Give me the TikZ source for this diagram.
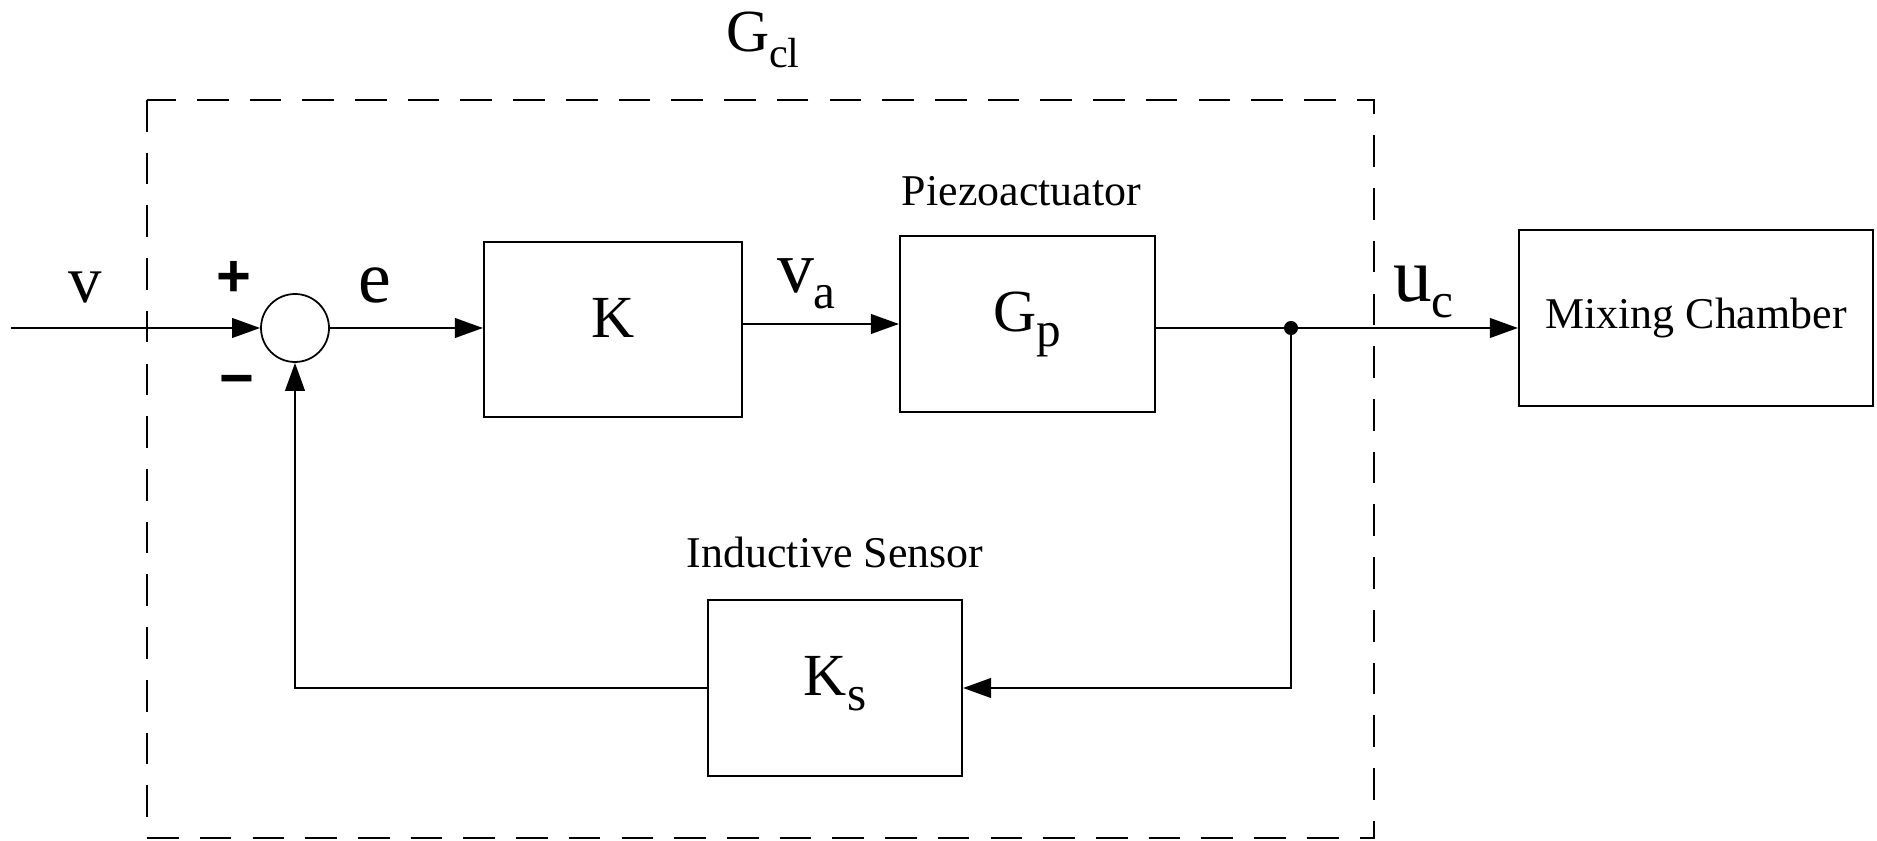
\documentclass[tikz,border=0pt]{standalone}
\usepackage{fontspec}
\setmainfont{Liberation Serif}
\newfontfamily\signfont{Liberation Sans}
\usetikzlibrary{arrows.meta}
% lowered roman subscript
\newcommand{\lsub}[2][14]{\raisebox{-4.3pt}{\fontsize{#1}{#1}\selectfont #2}}
\tikzset{
  block/.style={draw,rectangle,minimum height=1.76cm,inner sep=0pt},
  gain/.style={block,text height=11.3pt,text depth=7pt},
  lab/.style={inner sep=0pt},
  sig/.style={-{Triangle[length=8pt,width=5.6pt]}},
}
\begin{document}
\begin{tikzpicture}[line width=0.6pt,font=\fontsize{17}{17}\selectfont]
\useasboundingbox (0,0) rectangle (18.77,-8.41);
% closed loop frame
\draw[dash pattern=on 9pt off 6pt] (1.47,-1.00) rectangle (13.74,-8.38);
\node[lab,anchor=base west] (Gcl) at (7.25,-0.52) {G\lsub[12]{cl}};
% blocks
\node[draw,circle,minimum size=0.68cm,inner sep=0pt,line width=0.5pt] (sum) at (2.95,-3.28) {};
\node[gain,minimum width=2.58cm,minimum height=1.75cm] (K) at (6.13,-3.295) {K};
\node[gain,minimum width=2.55cm] (Gp) at (10.275,-3.24) {G\lsub{p}};
\node[block,minimum width=3.54cm] (mix) at (16.96,-3.18) {\fontsize{12.5}{12.5}\selectfont Mixing Chamber};
\node[gain,minimum width=2.54cm] (Ks) at (8.35,-6.88) {K\lsub{s}};
\node[lab,anchor=base,font=\fontsize{12.5}{12.5}\selectfont] (piezo) at (10.215,-2.06) {Piezoactuator};
\node[lab,anchor=base,font=\fontsize{12.5}{12.5}\selectfont] (sensor) at (8.35,-5.68) {Inductive Sensor};
% signals
\coordinate (in) at (0.11,-3.28);
\coordinate (tap) at (12.91,-3.28);
\draw[sig] (in) -- (sum.west);
\draw[sig] (sum.east) -- (sum.east -| K.west);
\draw[sig] (K.east |- Gp.west) -- (Gp.west);
\draw (Gp.east |- tap) -- (tap);
\draw[sig] (tap) -- (tap -| mix.west);
\fill (tap) circle (2pt);
\draw[sig] (tap) |- (Ks.east);
\draw[sig] (Ks.west) -| (sum.south);
% signal names
\node[lab,anchor=base,font=\fontsize{19}{19}\selectfont] (v) at (0.855,-3.03) {v};
\node[lab,font=\signfont\bfseries\fontsize{17}{17}\selectfont] (plus) at (2.34,-2.79) {+};
\node[lab,font=\signfont\bfseries\fontsize{17}{17}\selectfont] (minus) at (2.37,-3.87) {−};
\node[lab,anchor=base,font=\fontsize{21}{21}\selectfont] (e) at (3.75,-3.03) {e};
\node[lab,anchor=base west,font=\fontsize{21}{21}\selectfont] (va) at (7.76,-2.93) {v\lsub{a}};
\node[lab,anchor=base west,font=\fontsize{22}{22}\selectfont] (uc) at (13.92,-3.02) {u\lsub{c}};
\end{tikzpicture}
\end{document}
